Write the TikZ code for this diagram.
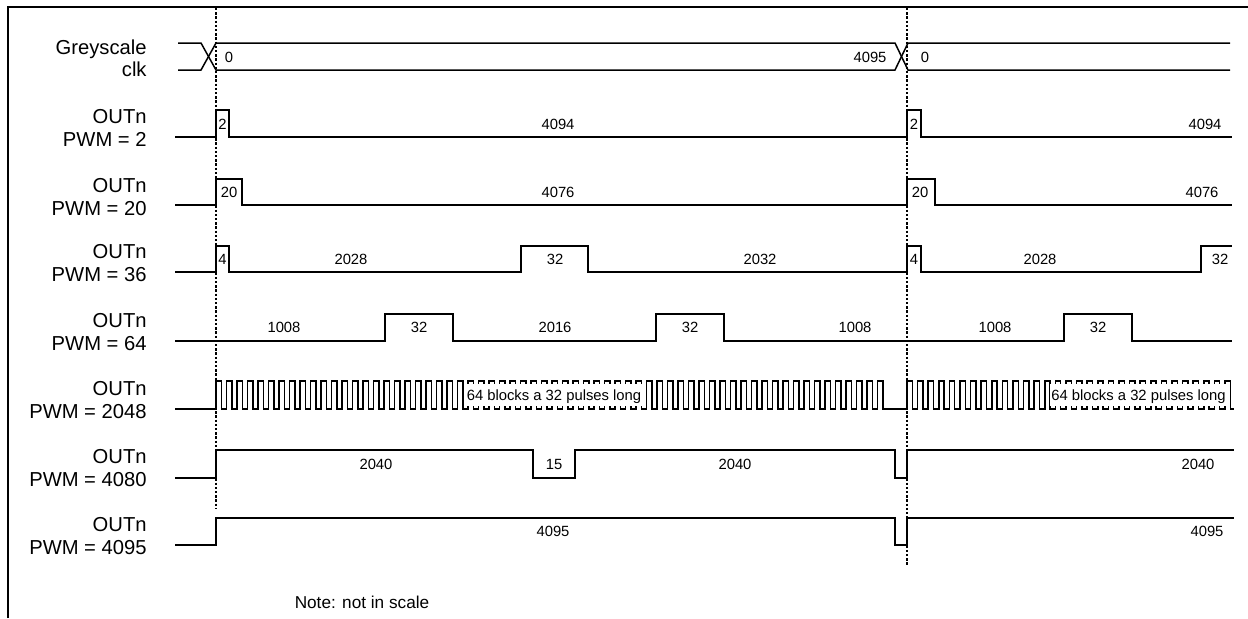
\documentclass[tikz,border=0pt]{standalone}
\usepackage{fontspec}
\setmainfont{Liberation Sans}
\begin{document}
\begin{tikzpicture}[x=0.5pt,y=-0.5pt,
  sig/.style={line width=0.75pt, line join=miter},
  guide/.style={line width=0.8pt, dash pattern=on 1.2pt off 0.9pt},
  lab/.style={font=\fontsize{10.1}{11.2}\selectfont, align=right, anchor=east, inner sep=0pt},
  val/.style={font=\fontsize{7.4}{9}\selectfont, inner sep=0pt},
  blk/.style={val, fill=white, inner xsep=0.6pt, inner ysep=1pt, text height=0.72em, text depth=0.2em},
]
\useasboundingbox (0,0) rectangle (1248,618);
\draw[line width=1pt] (8,618) -- (8,7) -- (1248,7);

% guides
\draw[guide] (216,8) -- (216,508);
\draw[guide] (907,8) -- (907,565);

% clock
\node[lab] (lclk) at (147,58) {Greyscale\\clk};
\draw[sig] (178,43) -- (201,43) -- (216,70) -- (895,70) -- (908,43) -- (1230,43);
\draw[sig] (178,70) -- (201,70) -- (216,43) -- (895,43) -- (908,70) -- (1230,70);
\node[val] (c0) at (229,57) {0};
\node[val] (c1) at (870,57) {4095};
\node[val] (c2) at (925,57) {0};

% PWM = 2
\node[lab] (l2) at (147,128) {OUTn\\PWM = 2};
\draw[sig] (175,137) -- (216,137) -- (216,110) -- (229,110) -- (229,137) -- (907,137) -- (907,110) -- (921,110) -- (921,137) -- (1232,137);
\node[val] at (222.5,124) {2};
\node[val] at (558,124) {4094};
\node[val] at (914,124) {2};
\node[val] at (1205,124) {4094};

% PWM = 20
\node[lab] (l20) at (147,197) {OUTn\\PWM = 20};
\draw[sig] (175,205) -- (216,205) -- (216,179) -- (242,179) -- (242,205) -- (907,205) -- (907,179) -- (935,179) -- (935,205) -- (1232,205);
\node[val] at (229,192) {20};
\node[val] at (558,192) {4076};
\node[val] at (920,192) {20};
\node[val] at (1202,192) {4076};

% PWM = 36
\node[lab] (l36) at (147,263) {OUTn\\PWM = 36};
\draw[sig] (175,272) -- (216,272) -- (216,246) -- (229,246) -- (229,272) -- (521,272) -- (521,246) -- (588,246) -- (588,272) -- (907,272) -- (907,246) -- (921,246) -- (921,272) -- (1201,272) -- (1201,246) -- (1232,246);
\node[val] at (222.5,259) {4};
\node[val] at (351,259) {2028};
\node[val] at (555,259) {32};
\node[val] at (760,259) {2032};
\node[val] at (914,259) {4};
\node[val] at (1040,259) {2028};
\node[val] at (1220,259) {32};

% PWM = 64
\node[lab] (l64) at (147,332) {OUTn\\PWM = 64};
\draw[sig] (175,341) -- (385,341) -- (385,314) -- (453,314) -- (453,341) -- (656,341) -- (656,314) -- (724,314) -- (724,341) -- (1064,341) -- (1064,314) -- (1132,314) -- (1132,341) -- (1232,341);
\node[val] at (284,327) {1008};
\node[val] at (419,327) {32};
\node[val] at (555,327) {2016};
\node[val] at (690,327) {32};
\node[val] at (855,327) {1008};
\node[val] at (995,327) {1008};
\node[val] at (1098,327) {32};

% PWM = 2048
\node[lab] (l2048) at (147,400) {OUTn\\PWM = 2048};
\draw[sig] (175,409) -- (216,409)
  \foreach \k in {0,...,63} { -- ({216+\k*10.5},409) -- ({216+\k*10.5},381) -- ({221.25+\k*10.5},381) -- ({221.25+\k*10.5},409) }
  -- (907,409)
  \foreach \k in {0,...,30} { -- ({907+\k*10.6},409) -- ({907+\k*10.6},381) -- ({912.3+\k*10.6},381) -- ({912.3+\k*10.6},409) }
  -- (1234,409);
\node[blk] (b1) at (554,395) {64 blocks a 32 pulses long};
\node[blk] (b2) at (1138.5,395) {64 blocks a 32 pulses long};

% PWM = 4080
\node[lab] (l4080) at (147,468) {OUTn\\PWM = 4080};
\draw[sig] (175,478) -- (216,478) -- (216,450) -- (533,450) -- (533,478) -- (575,478) -- (575,450) -- (895,450) -- (895,478) -- (907,478) -- (907,450) -- (1234,450);
\node[val] at (376,464) {2040};
\node[val] at (554,464) {15};
\node[val] at (735,464) {2040};
\node[val] at (1198,464) {2040};

% PWM = 4095
\node[lab] (l4095) at (147,536) {OUTn\\PWM = 4095};
\draw[sig] (175,545) -- (216,545) -- (216,518) -- (895,518) -- (895,545) -- (907,545) -- (907,518) -- (1234,518);
\node[val] at (553,531) {4095};
\node[val] at (1207,531) {4095};

\node[font=\fontsize{8.6}{10}\selectfont, inner sep=0pt] (note) at (362,602) {Note: not in scale};
\end{tikzpicture}
\end{document}
